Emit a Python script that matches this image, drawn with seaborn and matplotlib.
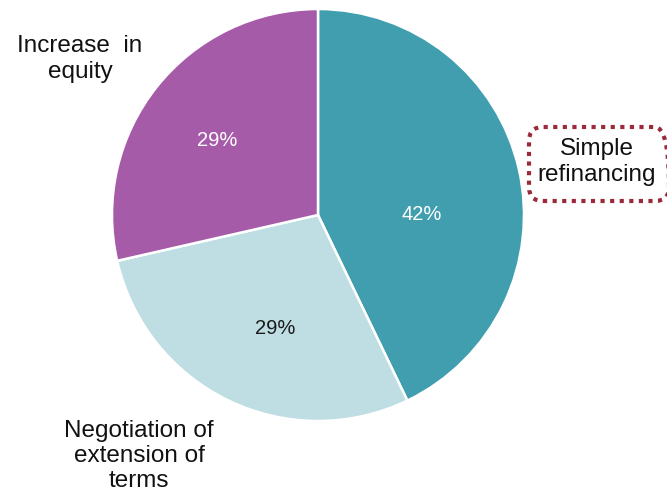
import matplotlib
matplotlib.use("Agg")
import matplotlib.pyplot as plt
from matplotlib.patches import FancyBboxPatch
import seaborn as sns

categories = ["Simple\nrefinancing", "Negotiation of\nextension of\nterms", "Increase  in\nequity"]
values = [3, 2, 2]
pct_labels = ["42%", "29%", "29%"]
colors = ["#409EAF", "#BEDEE3", "#A65BA8"]
pct_colors = ["white", "#1a1a1a", "white"]

sns.set_theme(style="white")
plt.rcParams['font.family'] = ['Liberation Sans', 'DejaVu Sans']

fig = plt.figure(figsize=(6.67, 4.92), dpi=100)
ax = fig.add_axes([0, 0, 1, 1])
ax.set_xlim(0, 667)
ax.set_ylim(0, 492)
ax.set_aspect('equal')
ax.axis('off')

H = 492
wedges, _ = ax.pie(values, colors=colors, startangle=90, counterclock=False,
                   center=(318, H - 215), radius=206,
                   wedgeprops=dict(edgecolor="white", linewidth=1.8))
ax.set_xlim(0, 667)
ax.set_ylim(0, 492)

pct_pos = [(422, 215), (275, 329), (217, 141)]
for lab, (x, y), c in zip(pct_labels, pct_pos, pct_colors):
    ax.text(x, H - y, lab, ha="center", va="center",
            fontsize=14.5, color=c)

label_pos = [(597, 162), (139, 456), (80, 59)]
for lab, (x, y) in zip(categories, label_pos):
    ax.text(x, H - y, lab, ha="center", va="center", fontsize=17.5,
            color="#111111", linespacing=1.2)

box = FancyBboxPatch((529, H - 201), 140, 74,
                     boxstyle="round,pad=0,rounding_size=14",
                     fill=False, edgecolor="#9B2B3B", linewidth=3,
                     linestyle=(0, (1, 1.3)), clip_on=False)
ax.add_patch(box)

fig.savefig("out.png", dpi=100)
